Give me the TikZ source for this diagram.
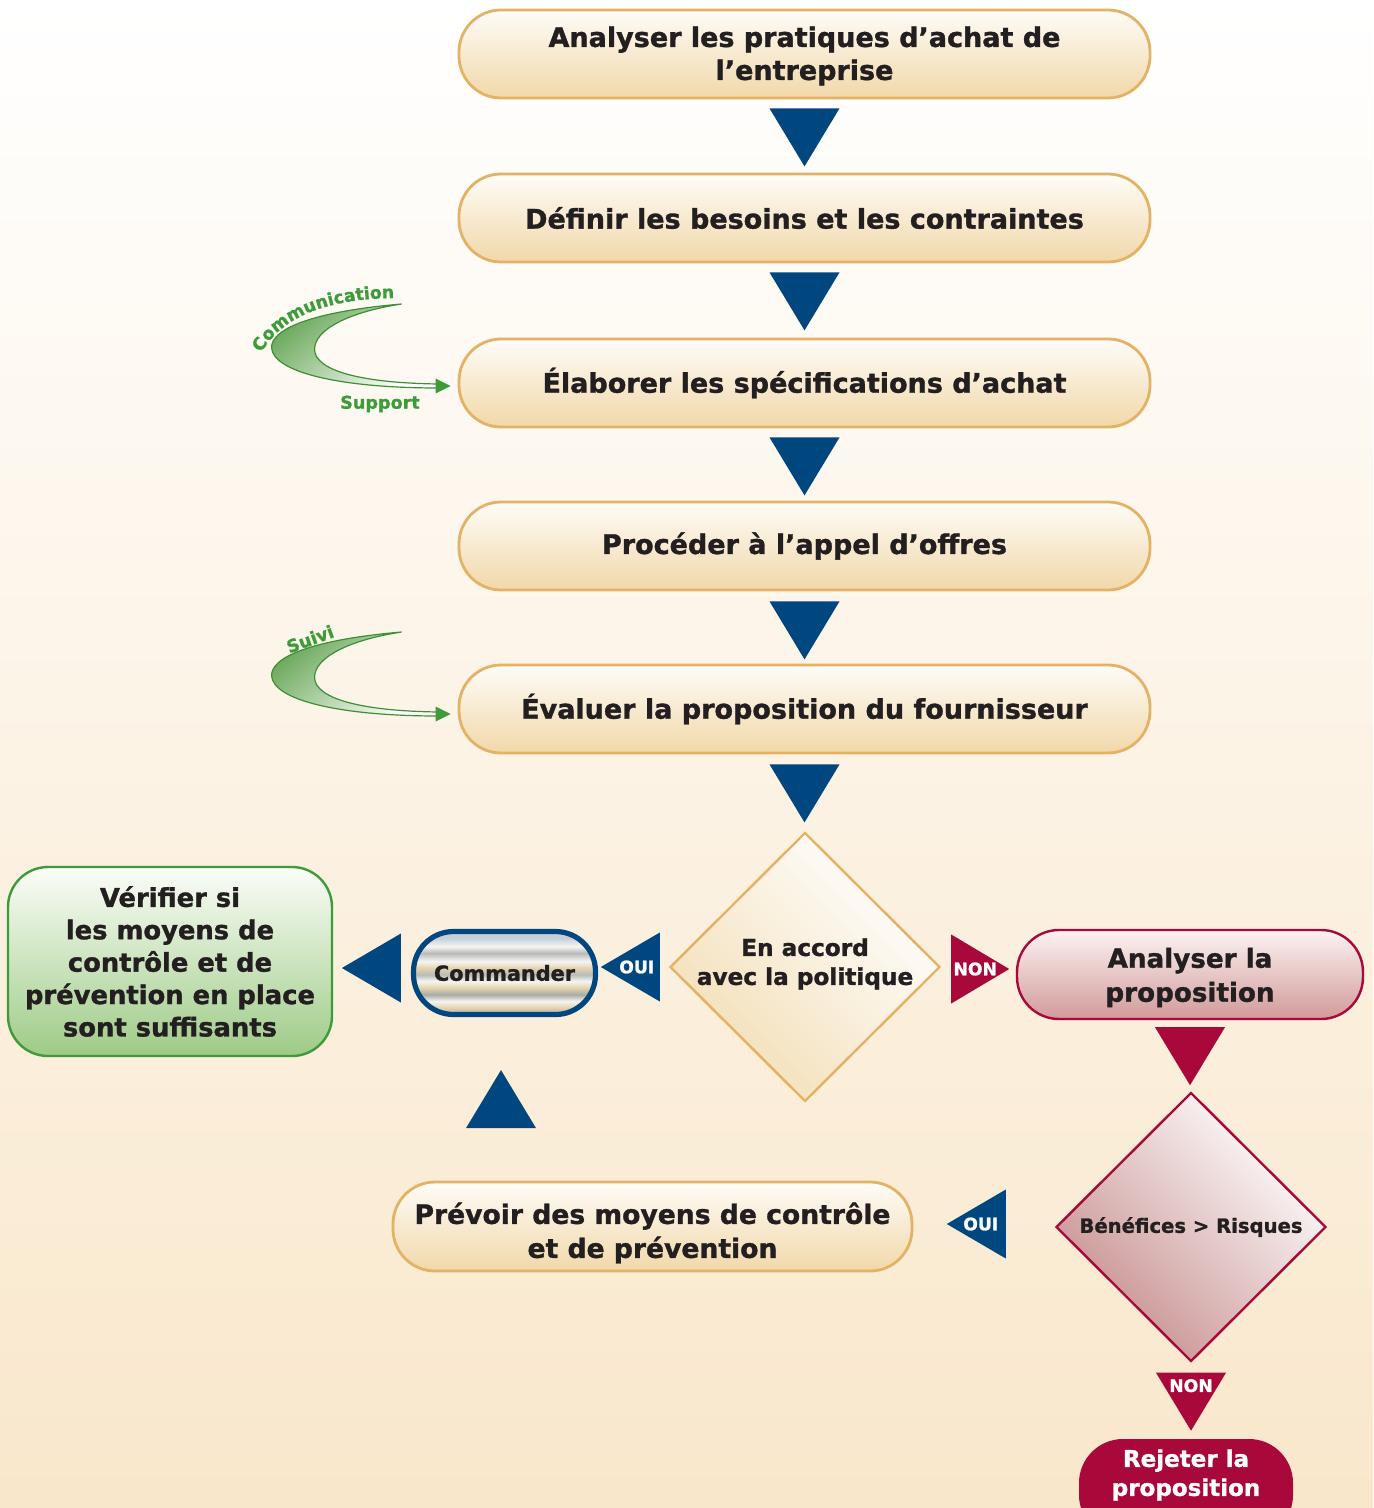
\documentclass[tikz,border=0pt]{standalone}
\usepackage{fontspec}
\setmainfont{DejaVu Sans}[BoldFeatures={FakeBold=1.2}]
\usetikzlibrary{shapes.geometric,decorations.text,calc}
\definecolor{bgmid}{HTML}{FCF3E4}
\definecolor{bgbot}{HTML}{F9E7CB}
\definecolor{boxtop}{HTML}{FEFCF8}
\definecolor{boxbot}{HTML}{F1D8A9}
\definecolor{boxline}{HTML}{E4B264}
\definecolor{navy}{HTML}{00467F}
\definecolor{crim}{HTML}{A8083A}
\definecolor{pinktop}{HTML}{FBF3F2}
\definecolor{pinkbot}{HTML}{D29A9A}
\definecolor{pinkdia}{HTML}{C78E8E}
\definecolor{gline}{HTML}{3E9B3A}
\definecolor{gtop}{HTML}{FBFDF8}
\definecolor{gfill}{HTML}{9ECB87}
\definecolor{gcres}{HTML}{6AA85A}
\definecolor{gdark}{HTML}{3E8F36}
\definecolor{gtext}{HTML}{3E9B3A}
\definecolor{txt}{HTML}{231F20}
\definecolor{mBlue}{HTML}{C5CFD8}
\definecolor{mWhite}{HTML}{F6F5F1}
\definecolor{mGrey}{HTML}{A9AAA6}
\definecolor{mGrey2}{HTML}{B9BBB8}
\definecolor{mBeige}{HTML}{E3D2AE}
\pgfdeclareverticalshading{metal}{100bp}{color(0bp)=(mGrey); color(25bp)=(mGrey); color(29bp)=(mBeige); color(33bp)=(mWhite); color(37bp)=(mGrey); color(41bp)=(mBeige); color(45bp)=(mWhite); color(49bp)=(mGrey2); color(53bp)=(mBeige); color(57bp)=(mWhite); color(62bp)=(mGrey2); color(66bp)=(mWhite); color(71bp)=(mBlue); color(75bp)=(mBlue); color(100bp)=(mBlue)}
\begin{document}
\begin{tikzpicture}[x=0.5pt,y=-0.5pt,
  mainbox/.style={draw=boxline, line width=1.4pt, rounded corners=21pt,
    top color=boxtop, bottom color=boxbot, minimum width=345.5pt, minimum height=44pt,
    align=center, text=txt, font=\fontsize{13.5}{16.5}\selectfont\bfseries},
  gbox/.style={draw=gline, line width=1.2pt, rounded corners=20pt,
    top color=gtop, bottom color=gfill, minimum width=162pt, minimum height=94.5pt,
    align=center, text=txt, font=\fontsize{12.9}{16.2}\selectfont\bfseries},
  redbox/.style={draw=crim, line width=1.2pt, rounded corners=21pt,
    top color=pinktop, bottom color=pinkbot, minimum width=173pt, minimum height=44.5pt},
  boxtext/.style={align=center, text=txt, inner sep=0pt},
  metalbox/.style={draw=navy, line width=2.6pt, rounded corners=20pt, shade, shading=metal,
    minimum width=91pt, minimum height=41.5pt, text=txt, font=\fontsize{10.4}{12}\selectfont\bfseries},
  rejbox/.style={fill=crim, rounded corners=22pt, minimum width=107pt, minimum height=50pt},
  rejtext/.style={align=center, text=white, font=\fontsize{11.5}{14.5}\selectfont\bfseries},
  dia/.style={diamond, inner sep=0pt, minimum width=135pt, minimum height=134.5pt,
    align=center, text=txt, line width=1.2pt},
  trilabel/.style={text=white, inner sep=0pt, font=\fontsize{8.6}{10}\selectfont\bfseries},
  ctext/.style={text=gtext, inner sep=0pt, font=\fontsize{8.8}{10}\selectfont\bfseries},
  tridown/.pic={\fill (-35,0) -- (35,0) -- (0,58) -- cycle;},
  trileft/.pic={\fill (0,0) -- (59,-34.5) -- (59,34.5) -- cycle;},
  triright/.pic={\fill (0,0) -- (-58,-34.5) -- (-58,34.5) -- cycle;},
  triup/.pic={\fill (0,0) -- (35,58) -- (-35,58) -- cycle;},
  crescent/.pic={
    \shadedraw[draw=gdark, line width=0.6pt, top color=gcres, bottom color=white, shading angle=40]
      (0,0) .. controls (-93,8) and (-131,26) .. (-130,44)
      .. controls (-128,68) and (-63,84) .. (37,84) -- (37,80)
      .. controls (-43,79) and (-86,66) .. (-87,46)
      .. controls (-88,26) and (-53,8) .. (0,0) -- cycle;
    \fill[gline] (34,74.5) -- (49,82) -- (34,89.5) -- cycle;}
]
\useasboundingbox (0,0) rectangle (1373,1508);
\shade[top color=white, middle color=bgmid, bottom color=bgbot] (0,0) rectangle (1373,1508);

% main column
\node[mainbox] (b1) at (804.5,54) {};
\node[boxtext, font=\fontsize{13.5}{16.5}\selectfont\bfseries] (b1t) at (804.5,56) {Analyser les pratiques d’achat de\\l’entreprise};
\node[mainbox] (b2) at (804.5,218) {Définir les besoins et les contraintes};
\node[mainbox] (b3) at (804.5,383) {Élaborer les spécifications d’achat};
\node[mainbox] (b4) at (804.5,546) {Procéder à l’appel d’offres};
\node[mainbox] (b5) at (804.5,709) {Évaluer la proposition du fournisseur};

\pic[fill=navy] at ($(b1.south)+(0,9)$) {tridown};
\pic[fill=navy] at ($(b2.south)+(0,9)$) {tridown};
\pic[fill=navy] at ($(b3.south)+(0,9)$) {tridown};
\pic[fill=navy] at ($(b4.south)+(0,10)$) {tridown};
\pic[fill=navy] at ($(b5.south)+(0,10)$) {tridown};

% first decision
\node[dia, draw=boxline, top color=white, bottom color=boxbot!85, shading angle=-45] (d1) at (805,967) {};
\node[boxtext, font=\fontsize{11.6}{14.5}\selectfont\bfseries] (d1t) at (805,964) {En accord\\avec la politique};

\pic[fill=navy] at ($(d1.west)+(-68,0)$) {trileft};
\node[trilabel] (oui1) at ($(d1.west)+(-32,0)$) {OUI};
\node[metalbox] (cmd) at (504.5,973) {Commander};
\pic[fill=navy] at ($(cmd.west)+(-69,-5)$) {trileft};
\node[gbox] (ver) at (170,961.5) {Vérifier si\\les moyens de\\contrôle et de\\prévention en place\\sont suffisants};

\pic[fill=crim] at ($(d1.east)+(68,2)$) {triright};
\node[trilabel] (non1) at ($(d1.east)+(34,2)$) {NON};
\node[redbox] (ana) at (1190,974.5) {};
\node[boxtext, font=\fontsize{13.1}{17}\selectfont\bfseries] (anat) at (1190,977.5) {Analyser la\\proposition};
\pic[fill=crim] at ($(ana.south)+(0,7)$) {tridown};

% second decision
\node[dia, draw=crim, top color=white, bottom color=pinkdia, shading angle=-45,
  font=\fontsize{9.8}{12}\selectfont\bfseries] (d2) at (1191,1227) {Bénéfices > Risques};
\pic[fill=navy] at ($(d2.west)+(-108,-3)$) {trileft};
\node[trilabel] (oui2) at ($(d2.west)+(-74,-3)$) {OUI};
\node[mainbox, minimum width=259.5pt, minimum height=44.5pt] (prv) at (652.5,1226.5) {};
\node[boxtext, font=\fontsize{13.3}{17}\selectfont\bfseries] (prvt) at (652.5,1233) {Prévoir des moyens de contrôle\\et de prévention};
\pic[fill=navy] at ($(cmd.south)+(-3.5,53)$) {triup};

\pic[fill=crim] at ($(d2.south)+(0,10)$) {tridown};
\node[trilabel] (non2) at ($(d2.south)+(0,23)$) {NON};
\node[rejbox] (rj) at (1186,1489) {};
\node[rejtext] (rjt) at (1186,1475) {Rejeter la\\proposition};

% green crescents
\pic at ($(b3.west)+(-56,-79)$) {crescent};
\path[decorate, decoration={text along path, text align=center, text color=gtext,
  text={|\fontsize{8.6}{10}\selectfont\bfseries|Communication}}]
  (259,357) .. controls (281,313) and (335,298) .. (399,298);
\node[ctext] (sup) at (380,404) {Support};
\pic at ($(b5.west)+(-56,-77)$) {crescent};
\node[ctext, rotate=20] (sui) at (310,639) {Suivi};
\end{tikzpicture}
\end{document}
